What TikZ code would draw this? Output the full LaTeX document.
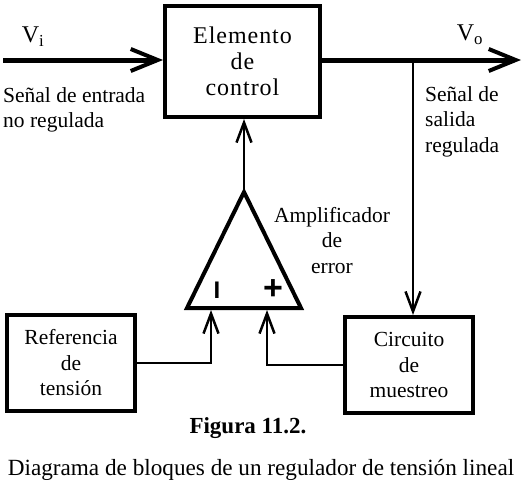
\documentclass[tikz,border=0pt]{standalone}
\usepackage{fontspec}
\setmainfont{Liberation Serif}
\newfontfamily\sansb{Liberation Sans}
\newfontfamily\ctrlfont[LetterSpace=4]{Liberation Serif}
\usetikzlibrary{arrows.meta}
\begin{document}
\begin{tikzpicture}[x=1pt,y=-1pt,
  lbl/.style={font=\fontsize{21.5}{25.5}\selectfont, inner sep=0pt},
  blk/.style={draw, line width=4pt, align=center, font=\fontsize{21.5}{25.5}\selectfont, inner sep=0pt},
  bigarrow/.style={line width=5pt, -{Straight Barb[length=27pt,width=22pt,line width=4pt]}},
  smallarrow/.style={line width=1.3pt, -{Straight Barb[length=20pt,width=15pt,line width=2.5pt]}},
  sign/.style={font=\sansb\bfseries\fontsize{22}{22}\selectfont, inner sep=0pt}
]
\useasboundingbox (0,0) rectangle (532,480);
% blocks
\node[blk, minimum width=155pt, minimum height=111pt, font=\ctrlfont\fontsize{24}{26}\selectfont] (ctrl) at (242.5,61.5) {Elemento\\de\\control};
\node[blk, minimum width=128pt, minimum height=96pt] (ref) at (71,363) {Referencia\\de\\tensión};
\node[blk, minimum width=128pt, minimum height=96pt] (samp) at (409,365) {Circuito\\de\\muestreo};
% amplifier triangle
\coordinate (apex) at (244,192);
\coordinate (bl) at (187,308);
\coordinate (br) at (301,308);
\draw[line width=4pt, line join=miter] (apex) -- (bl) -- (br) -- cycle;
\node[sign, font=\sansb\bfseries\fontsize{24}{24}\selectfont] (minus) at (217,290) {I};
\node[sign, font=\sansb\bfseries\fontsize{34}{34}\selectfont] (plus) at (273,290) {+};
\coordinate (inm) at (211,310);
\coordinate (inp) at (267,310);
% signal lines
\coordinate (vin) at (3,60);
\coordinate (vout) at (521,60);
\coordinate (tap) at (413,60);
\draw[bigarrow] (vin) -- (vin -| ctrl.west);
\draw[bigarrow] (vout -| ctrl.east) -- (vout);
\draw[smallarrow] (tap) -- (tap |- samp.north);
\draw[smallarrow] (apex) -- (apex |- ctrl.south);
\draw[smallarrow] (ref.east) -| (inm);
\draw[smallarrow] (samp.west) -| (inp);
% labels
\node[lbl, font=\fontsize{24}{25}\selectfont] (vi) at (33,37) {V\textsubscript{i}};
\node[lbl, font=\fontsize{24}{25}\selectfont] (vo) at (470,35) {V\textsubscript{o}};
\node[lbl, anchor=north west, align=left] (inlbl) at (3,87) {Señal de entrada\\no regulada};
\node[lbl, anchor=north west, align=left] (outlbl) at (425,86) {Señal de\\salida\\regulada};
\node[lbl, anchor=north, align=center] (amplbl) at (332,207) {Amplificador\\de\\error};
\node[lbl, anchor=base, font=\bfseries\fontsize{23}{25}\selectfont] (fig) at (248,433) {Figura 11.2.};
\node[lbl, anchor=base, font=\fontsize{23.2}{25}\selectfont] (cap) at (261,475) {Diagrama de bloques de un regulador de tensión lineal};
\end{tikzpicture}
\end{document}
